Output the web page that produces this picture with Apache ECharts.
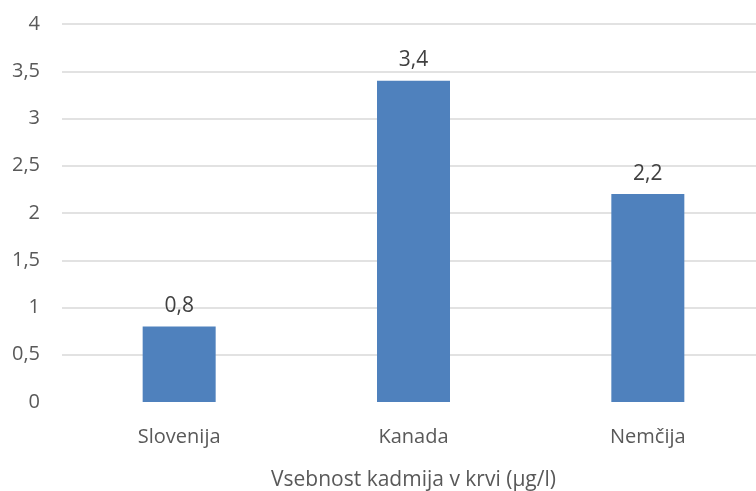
<!DOCTYPE html>
<html>
<head>
<meta charset="utf-8">
<script src="https://cdn.jsdelivr.net/npm/echarts@6/dist/echarts.min.js"></script>
<style>
  html, body { margin: 0; padding: 0; background: #fff; }
  #chart { width: 756px; height: 491px; }
</style>
</head>
<body>
<div id="chart"></div>
<script>
// Blood cadmium content by country (µg/l)
const countries = ['Slovenija', 'Kanada', 'Nemčija'];
const cadmium = [0.8, 3.4, 2.2];
const axisTitle = 'Vsebnost kadmija v krvi (µg/l)';

const fmt = v => String(v).replace('.', ',');
const textColor = '#595959';
const fontFamily = '"Open Sans", "Liberation Sans", sans-serif';

const chart = echarts.init(document.getElementById('chart'));
chart.setOption({
  animation: false,
  // plot area runs a little past the right edge of the canvas
  grid: {
    left: 62, top: 24, width: 703, height: 378,
    containLabel: false,
    outerBoundsMode: 'none'
  },
  xAxis: {
    type: 'category',
    data: countries,
    name: axisTitle,
    nameLocation: 'middle',
    nameGap: 68,
    nameTextStyle: { color: textColor, fontSize: 21, fontFamily },
    axisLine: { show: false },
    axisTick: { show: false },
    axisLabel: { color: textColor, fontSize: 20, fontFamily, margin: 25 }
  },
  yAxis: {
    type: 'value',
    min: 0,
    max: 4,
    interval: 0.5,
    axisLine: { show: false },
    axisTick: { show: false },
    axisLabel: { color: textColor, fontSize: 20, fontFamily, margin: 22, formatter: fmt },
    splitLine: {
      lineStyle: { color: '#d9d9d9', width: 1.5 },
      showMinLine: false
    }
  },
  series: [{
    type: 'bar',
    data: cadmium,
    barWidth: 73,
    itemStyle: { color: '#4f81bd' },
    label: {
      show: true,
      position: 'top',
      distance: 10,
      color: '#404040',
      fontSize: 21,
      fontFamily,
      formatter: p => fmt(p.value)
    }
  }]
});
</script>
</body>
</html>
